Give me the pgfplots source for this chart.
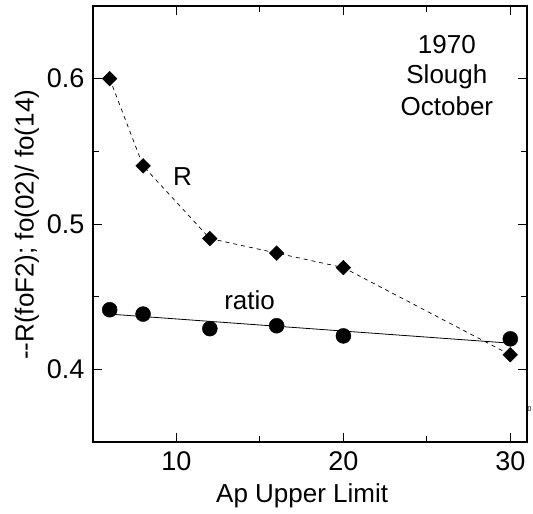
\documentclass[border=0pt]{standalone}
\usepackage{pgfplots}
\pgfplotsset{compat=1.18}
\usepackage{fontspec}
\setmainfont{Liberation Sans}
\begin{document}
\begin{tikzpicture}
\begin{axis}[
  scale only axis, width=434bp, height=436bp,
  xmin=5, xmax=31, ymin=0.35, ymax=0.65,
  xtick={10,20,30}, minor xtick={15,25},
  ytick={0.4,0.5,0.6}, minor ytick={0.45,0.55},
  xtick pos=both, ytick pos=both,
  tick align=inside,
  major tick length=9bp, minor tick length=6bp,
  axis line style={line width=1.2bp},
  every tick/.style={line width=1bp, black},
  every minor tick/.style={line width=1bp, black},
  font=\fontsize{26bp}{30bp}\selectfont,
  tick label style={font=\fontsize{27bp}{30bp}\selectfont},
  /pgf/number format/assume math mode=true,
  yticklabel style={xshift=-5bp, /pgf/number format/fixed, /pgf/number format/precision=1, /pgf/number format/fixed zerofill},
  xticklabel style={yshift=-6bp},
  clip=false,
]
% R series (dashed line)
\addplot[black, line width=0.7bp, dash pattern=on 4bp off 4bp, mark=none] coordinates {
  (6,0.600) (8,0.540) (12,0.490) (16,0.480) (20,0.470) (30,0.410)
};
\addplot[only marks, mark=square*, mark size=5.2bp, mark options={rotate=45, fill=black, draw=black}] coordinates {
  (6,0.600) (8,0.540) (12,0.490) (16,0.480) (20,0.470) (30,0.410)
};
% ratio series with linear fit
\addplot[black, line width=0.8bp, mark=none] coordinates {
  (6,0.438) (30,0.418)
};
\addplot[only marks, mark=*, mark size=7.5bp, mark options={fill=black, draw=black}] coordinates {
  (6,0.441) (8,0.438) (12,0.428) (16,0.430) (20,0.423) (30,0.421)
};
\node[anchor=base] at (axis cs:10.36,0.5262) {R};
\node[anchor=base] at (axis cs:14.38,0.4414) {ratio};
\node[anchor=base] at (axis cs:26.2,0.617) {1970};
\node[anchor=base] at (axis cs:26.2,0.5966) {Slough};
\node[anchor=base] at (axis cs:26.2,0.5745) {October};
\node[anchor=west, inner sep=0pt, font=\fontsize{7bp}{8bp}\selectfont] at ([xshift=0.5bp]rel axis cs:1,0.076) {0};
\node[anchor=base] at ([yshift=-60bp]rel axis cs:0.482,0) {Ap Upper Limit};
\node[rotate=90, anchor=center] at ([xshift=-66bp]rel axis cs:0,0.498) {-{}-R(foF2); fo(02)/ fo(14)};
\coordinate (bl) at (rel axis cs:0,0);
\coordinate (tr) at (rel axis cs:1,1);
\end{axis}
\pgfresetboundingbox
\path ([xshift=-93bp,yshift=-72bp]bl) rectangle ([xshift=6bp,yshift=6bp]tr);
\end{tikzpicture}
\end{document}
